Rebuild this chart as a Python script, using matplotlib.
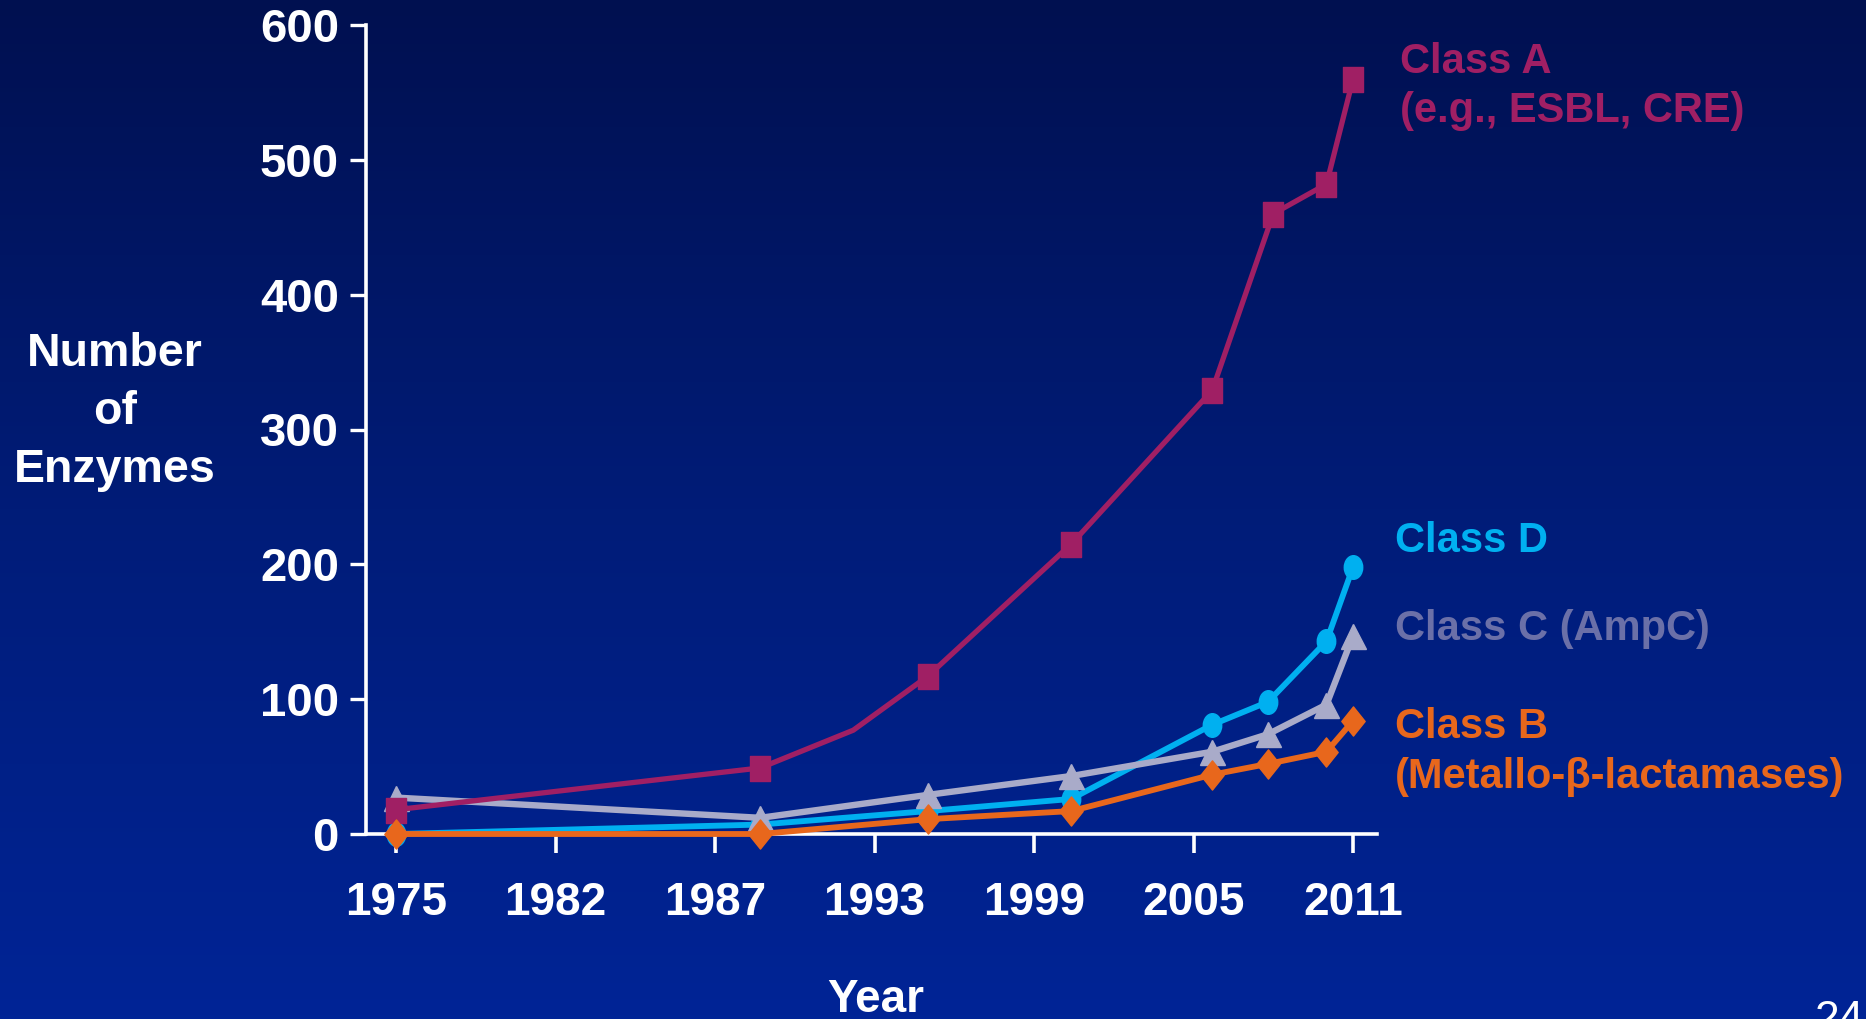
import numpy as np
import matplotlib
matplotlib.use("Agg")
import matplotlib.pyplot as plt
from matplotlib.path import Path
from matplotlib.colors import LinearSegmentedColormap

plt.rcParams['font.family'] = ['Liberation Sans', 'DejaVu Sans']

# ---- data -------------------------------------------------------------
years_a = [1975, 1988.7, 1992.2, 1995, 2000.4, 2005.7, 2008.0, 2010.0, 2011.0]
class_a = [18, 49, 77, 117, 215, 329, 460, 482, 560]
marks_a = [0, 1, 3, 4, 5, 6, 7, 8]          # 1992 is a bend without marker

years = [1975, 1988.7, 1995, 2000.4, 2005.7, 2007.8, 2010.0, 2011.0]
class_d = [0, 7, 17, 26, 81, 98, 143, 198]
class_c = [27, 12, 29, 43, 61, 74, 96, 147]
class_b = [0, 0, 11, 17, 44, 52, 61, 84]

tick_years = [1975, 1981, 1987, 1993, 1999, 2005, 2011]
tick_labels = ["1975", "1982", "1987", "1993", "1999", "2005", "2011"]
y_ticks = [0, 100, 200, 300, 400, 500, 600]

# ---- colours ----------------------------------------------------------
col_a = "#A01F64"
col_d = "#00B0F0"
col_c = "#A9ABC9"
col_c_text = "#6B70A8"
col_b = "#E8671C"
white = "white"

# ---- figure -----------------------------------------------------------
W, H = 1866, 1019
fig = plt.figure(figsize=(W / 100, H / 100), dpi=100)

# slide background: vertical gradient, dark navy at top to blue at bottom
bg = fig.add_axes([0, 0, 1, 1], zorder=-10)
grad = np.linspace(0, 1, 256).reshape(-1, 1)
cmap = LinearSegmentedColormap.from_list("slide", ["#001050", "#001C78", "#002496"])
bg.imshow(grad, aspect="auto", cmap=cmap, extent=[0, 1, 0, 1], origin="upper")
bg.set_axis_off()

ax = fig.add_axes([366 / W, 1 - 834 / H, (1377 - 366) / W, (834 - 25) / H])
ax.set_facecolor("none")

# marker shapes, slightly taller than wide
ellipse = Path.unit_circle()
ellipse = Path(ellipse.vertices * np.array([0.78, 1.0]), ellipse.codes)
diamond = Path([(0, 1), (0.8, 0), (0, -1), (-0.8, 0), (0, 1)],
               [Path.MOVETO, Path.LINETO, Path.LINETO, Path.LINETO, Path.CLOSEPOLY])
square = Path([(-0.8, -1), (0.8, -1), (0.8, 1), (-0.8, 1), (-0.8, -1)],
              [Path.MOVETO, Path.LINETO, Path.LINETO, Path.LINETO, Path.CLOSEPOLY])

ax.plot(years, class_d, color=col_d, lw=4.2, marker=ellipse, ms=17,
        mec=col_d, mfc=col_d, clip_on=False, zorder=3)
ax.plot(years, class_c, color=col_c, lw=4.6, marker="^", ms=18,
        mec=col_c, mfc=col_c, clip_on=False, zorder=4)
ax.plot(years_a, class_a, color=col_a, lw=3.8, marker=square, ms=18,
        markevery=marks_a, mec=col_a, mfc=col_a, clip_on=False, zorder=5)
ax.plot(years, class_b, color=col_b, lw=4.2, marker=diamond, ms=21,
        mec=col_b, mfc=col_b, clip_on=False, zorder=6)

ax.set_xlim(1973.87, 2011.9)
ax.set_ylim(0, 600)
ax.set_xticks(tick_years)
ax.set_xticklabels(tick_labels)
ax.set_yticks(y_ticks)

for s in ["top", "right"]:
    ax.spines[s].set_visible(False)
for s in ["left", "bottom"]:
    ax.spines[s].set_color(white)
    ax.spines[s].set_linewidth(2.6)
    ax.spines[s].set_zorder(2)

ax.tick_params(axis="y", colors=white, length=11.5, width=2.4, pad=8,
               labelsize=34)
ax.tick_params(axis="x", colors=white, length=14, width=2.6, pad=20,
               labelsize=33)
for lab in ax.get_xticklabels() + ax.get_yticklabels():
    lab.set_fontweight("bold")

# axis titles
fig.text(115 / W, 1 - 412 / H, "Number\nof\nEnzymes", color=white,
         fontsize=33.5, fontweight="bold", ha="center", va="center",
         multialignment="center", linespacing=1.42)
fig.text(876 / W, 1 - 1012 / H, "Year", color=white, fontsize=33,
         fontweight="bold", ha="center", va="baseline")

# series labels
lx = 1400 / W
fig.text(lx, 1 - 73 / H, "Class A", color=col_a, fontsize=30,
         fontweight="bold", va="baseline")
fig.text(lx, 1 - 122 / H, "(e.g., ESBL, CRE)", color=col_a, fontsize=30,
         fontweight="bold", va="baseline")
fig.text(lx - 5 / W, 1 - 552 / H, "Class D", color=col_d, fontsize=30,
         fontweight="bold", va="baseline")
fig.text(lx - 5 / W, 1 - 640 / H, "Class C (AmpC)", color=col_c_text,
         fontsize=30, fontweight="bold", va="baseline")
fig.text(lx - 5 / W, 1 - 738 / H, "Class B", color=col_b, fontsize=30,
         fontweight="bold", va="baseline")
fig.text(lx - 5 / W, 1 - 788 / H, "(Metallo-β-lactamases)", color=col_b,
         fontsize=30, fontweight="bold", va="baseline")

# slide number, partly off the page
fig.text(1815 / W, 1 - 1000 / H, "24", color=white, fontsize=32,
         ha="left", va="top")

fig.savefig("out.png", dpi=100)
